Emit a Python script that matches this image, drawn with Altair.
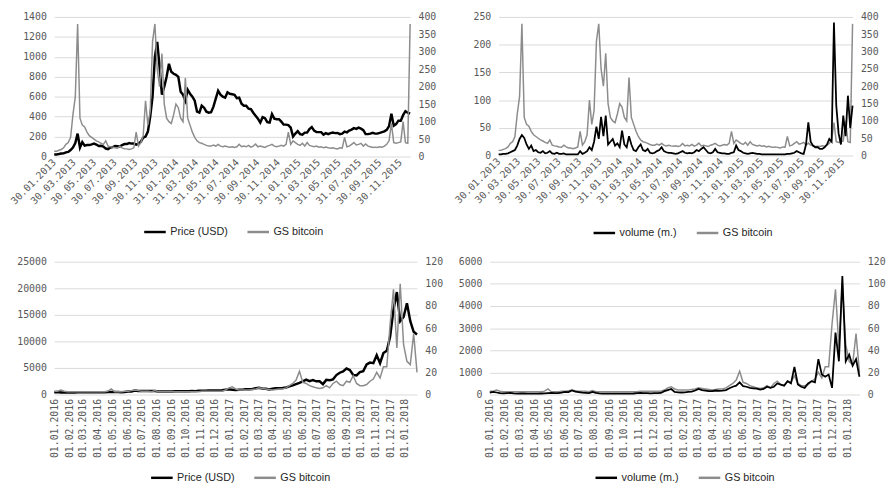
import altair as alt
import pandas as pd

# ---------------- data: 2013-01-30 .. 2015-12-30, one value per week ----------------
START_A = "2013-01-30"
price_a = [
    20, 21, 25, 30, 32, 42, 47, 65, 90, 135,
    230, 90, 145, 110, 115, 115, 122, 130, 120, 105,
    108, 100, 80, 75, 90, 95, 105, 103, 100, 115,
    125, 125, 135, 130, 130, 120, 130, 150, 190, 200,
    250, 400, 600, 1000, 1150, 900, 620, 700, 800, 930,
    850, 830, 820, 800, 650, 620, 560, 670, 630, 600,
    560, 450, 440, 510, 490, 450, 440, 445, 500, 580,
    660, 620, 600, 590, 645, 630, 625, 620, 585, 590,
    530, 510, 510, 480, 475, 440, 410, 380, 340, 395,
    385, 345, 340, 425, 380, 375, 375, 350, 320, 320,
    315, 290, 200, 230, 255, 225, 220, 240, 240, 275,
    295, 260, 245, 245, 245, 220, 235, 225, 235, 240,
    235, 237, 225, 230, 250, 243, 260, 270, 285, 278,
    290, 280, 265, 225, 225, 230, 238, 230, 230, 237,
    245, 253, 267, 305, 430, 310, 325, 360, 360, 415,
    455, 440, 430,
]
volume_a = [
    2, 2, 3, 3, 4, 6, 8, 10, 18, 30,
    37, 32, 20, 12, 18, 8, 10, 6, 5, 8,
    4, 5, 8, 4, 3, 5, 3, 3, 4, 2,
    2, 2, 2, 2, 2, 8, 3, 5, 8, 15,
    10, 25, 52, 30, 70, 35, 72, 20, 25, 30,
    18, 22, 15, 45, 20, 15, 35, 20, 10, 8,
    15, 20, 10, 8, 12, 5, 4, 5, 8, 10,
    15, 8, 6, 5, 5, 4, 3, 4, 6, 8,
    5, 4, 5, 4, 6, 10, 8, 12, 15, 10,
    5, 4, 6, 12, 6, 5, 4, 4, 3, 3,
    5, 6, 18, 10, 8, 5, 4, 3, 4, 5,
    4, 3, 3, 2, 2, 2, 2, 2, 2, 2,
    2, 2, 2, 2, 3, 3, 4, 5, 8, 6,
    4, 3, 20, 60, 25, 18, 15, 15, 12, 12,
    15, 20, 30, 25, 240, 90, 40, 20, 72, 35,
    108, 50, 90,
]
gs_a = [
    15, 15, 18, 20, 25, 35, 40, 55, 120, 170,
    380, 110, 90, 85, 70, 60, 55, 50, 45, 42,
    38, 35, 45, 30, 28, 27, 25, 24, 30, 25,
    22, 22, 20, 22, 25, 70, 30, 40, 60, 160,
    90, 130, 330, 380, 250, 200, 295, 150, 110, 100,
    95, 120, 150, 140, 110, 100, 225, 110, 90, 70,
    55, 45, 40, 38, 35, 32, 30, 30, 33, 30,
    35, 30, 28, 30, 28, 27, 28, 26, 28, 35,
    28, 30, 28, 32, 27, 30, 36, 28, 30, 28,
    26, 30, 32, 35, 30, 28, 30, 32, 30, 35,
    70, 35, 45, 40, 35, 32, 38, 30, 40, 32,
    30, 28, 30, 27, 28, 25, 27, 25, 24, 25,
    23, 22, 25, 24, 55, 28, 30, 35, 40, 33,
    35, 38, 30, 36, 30, 28, 26, 27, 26, 28,
    27, 30, 35, 45, 95, 40, 38, 40, 42, 100,
    40, 38, 380,
]
ticks_a = [
    "2013-01-30", "2013-03-30", "2013-05-30", "2013-07-30", "2013-09-30", "2013-11-30",
    "2014-01-31", "2014-03-31", "2014-05-31", "2014-07-31", "2014-09-30", "2014-11-30",
    "2015-01-31", "2015-03-31", "2015-05-31", "2015-07-31", "2015-09-30", "2015-11-30",
]

# ---------------- data: 2016-01-01 .. 2018-01-26, one value per week ----------------
START_B = "2016-01-01"
price_b = [
    430, 450, 385, 385, 380, 385, 380, 420, 430, 410,
    415, 410, 415, 417, 420, 430, 450, 455, 460, 455,
    440, 475, 570, 580, 750, 660, 680, 640, 665, 655,
    655, 575, 590, 575, 575, 575, 625, 605, 600, 610,
    615, 640, 630, 690, 700, 715, 750, 740, 765, 770,
    785, 920, 960, 890, 820, 890, 920, 1010, 1000, 1050,
    1180, 1260, 1100, 1070, 940, 1070, 1190, 1180, 1240, 1330,
    1530, 1720, 1970, 2200, 2480, 2800, 2500, 2700, 2480, 2500,
    1950, 2750, 2700, 2850, 3650, 4100, 4350, 4900, 4600, 3700,
    3600, 4200, 4400, 5650, 6000, 5900, 7400, 5900, 7800, 8250,
    10900, 16000, 19300, 13800, 14600, 17200, 13800, 11800, 11300,
]
volume_b = [
    80, 120, 90, 60, 50, 60, 70, 50, 40, 50,
    45, 40, 40, 35, 40, 45, 50, 60, 70, 60,
    60, 80, 120, 110, 180, 130, 110, 80, 70, 60,
    120, 70, 50, 40, 40, 40, 40, 35, 40, 35,
    40, 40, 45, 60, 70, 60, 60, 55, 60, 60,
    70, 150, 200, 250, 120, 100, 90, 100, 120, 130,
    180, 250, 200, 180, 150, 150, 180, 160, 170, 200,
    280, 350, 400, 550, 380, 350, 300, 280, 260, 220,
    250, 350, 300, 350, 500, 450, 400, 600, 500, 1250,
    450, 350, 300, 500, 600, 550, 1600, 900, 800, 900,
    300, 2800, 1500, 5350, 1500, 1800, 1300, 1600, 800,
]
gs_b = [
    3, 3, 4, 3, 2.5, 2.5, 2.5, 2.5, 2.5, 2.5,
    2.5, 2.5, 2.5, 2.5, 2.5, 2.5, 3, 5, 2.5, 2.5,
    2.5, 3, 3, 3.5, 4, 3.5, 3, 3, 3, 2.5,
    3.5, 2.5, 2.5, 2.5, 2.5, 2.5, 2.5, 2.5, 2.5, 2.5,
    2.5, 2.5, 2.5, 2.5, 3, 3, 3, 3, 3, 3,
    3, 4, 6, 7, 5, 4, 4, 4, 4, 4.5,
    5, 6, 5.5, 5, 4.5, 4, 4.5, 5, 5, 6,
    8, 10, 13, 21, 11, 10, 8, 7, 6, 5.5,
    6, 8, 6, 10, 12, 9, 8, 12, 11, 17,
    10, 8, 8, 9, 12, 14, 20, 15, 25, 25,
    64, 95, 42, 100, 45, 30, 27, 55, 20,
]
ticks_b = [f"{y}-{m:02d}-01" for y in (2016, 2017) for m in range(1, 13)] + ["2018-01-01"]

# ---------------- styling ----------------
AXIS_FONT = "DejaVu Sans Mono"
LEGEND_FONT = "Liberation Sans"
LABEL_COLOR = "#595959"
GRID = "#d9d9d9"
BLACK = "#000000"
GRAY = "#8c8c8c"


def dt(s):
    y, m, d = (int(p) for p in s[:10].split("-"))
    return alt.DateTime(year=y, month=m, date=d)


def series_df(start, values, name):
    dates = pd.date_range(start, periods=len(values), freq="7D")
    return pd.DataFrame({"date": dates.strftime("%Y-%m-%dT00:00:00"), "value": values,
                         "series": name})


def panel(start, black_vals, black_name, gs_vals, left_max, left_step, right_max, right_step,
          ticks, angle, width, height, left_ext, legend_x, legend_y, black_width, black_on_top):
    bdf = series_df(start, black_vals, black_name)
    gdf = series_df(start, gs_vals, "GS bitcoin")
    end = bdf["date"].iloc[-1]
    xscale = alt.Scale(domain=[dt(start), dt(end)], nice=False)
    xaxis = alt.Axis(
        values=[dt(t) for t in ticks], format="%d.%m.%Y", labelAngle=angle,
        labelAlign="right", labelBaseline="middle", labelPadding=4,
        labelFont=AXIS_FONT, labelFontSize=10, labelColor=LABEL_COLOR,
        labelOverlap=False, labelFlush=False, domain=False, ticks=False, grid=False, title=None,
    )
    color_scale = alt.Scale(domain=[black_name, "GS bitcoin"], range=[BLACK, GRAY])
    legend = alt.Legend(
        orient="none", legendX=legend_x, legendY=legend_y, direction="horizontal", title=None,
        symbolType="stroke", symbolSize=480, symbolStrokeWidth=2.5, labelFont=LEGEND_FONT,
        labelFontSize=11, labelColor="#262626", columnPadding=14, labelOffset=3, padding=0,
    )
    color = alt.Color("series:N", scale=color_scale, legend=legend)
    black = alt.Chart(bdf).mark_line(strokeWidth=black_width).encode(
        x=alt.X("date:T", scale=xscale, axis=xaxis),
        y=alt.Y("value:Q", scale=alt.Scale(domain=[0, left_max], nice=False),
                axis=alt.Axis(orient="left", values=list(range(0, left_max + 1, left_step)),
                              format="d", grid=True, gridColor=GRID, gridWidth=1, domain=False,
                              ticks=False, labelPadding=8, labelFont=AXIS_FONT, labelFontSize=10,
                              labelColor=LABEL_COLOR, minExtent=left_ext, title=None)),
        color=color,
    )
    gray = alt.Chart(gdf).mark_line(strokeWidth=1.5).encode(
        x=alt.X("date:T", scale=xscale, axis=xaxis),
        y=alt.Y("value:Q", scale=alt.Scale(domain=[0, right_max], nice=False),
                axis=alt.Axis(orient="right", values=list(range(0, right_max + 1, right_step)),
                              format="d", grid=False, domain=False, ticks=False, labelPadding=8,
                              labelFont=AXIS_FONT, labelFontSize=10, labelColor=LABEL_COLOR,
                              title=None)),
        color=color,
    )
    layers = [gray, black] if black_on_top else [black, gray]
    return alt.layer(*layers).resolve_scale(y="independent").properties(width=width, height=height)


tl = panel(START_A, price_a, "Price (USD)", gs_a, 1400, 200, 400, 50, ticks_a, -45,
           362, 142, 45, 90, 206, 2.5, False)
tr = panel(START_A, volume_a, "volume (m.)", gs_a, 250, 50, 400, 50, ticks_a, -45,
           360, 141, 45, 95, 207, 1.8, True)
bl = panel(START_B, price_b, "Price (USD)", gs_b, 25000, 5000, 120, 20, ticks_b, -90,
           369, 135, 38, 97, 207, 2.5, False)
br = panel(START_B, volume_b, "volume (m.)", gs_b, 6000, 1000, 120, 20, ticks_b, -90,
           376, 135, 40, 106, 207, 1.8, True)

top = alt.hconcat(tl, tr, spacing=16).resolve_scale(color="independent")
bottom = alt.hconcat(bl, br, spacing=7).resolve_scale(color="independent")

chart = (
    alt.vconcat(top, bottom, spacing=19)
    .resolve_scale(color="independent")
    .properties(padding={"left": 0, "top": 0, "right": 0, "bottom": 0})
    .configure_view(strokeWidth=0)
)

chart.save("out.html", embed_options={"renderer": "svg", "actions": False})
